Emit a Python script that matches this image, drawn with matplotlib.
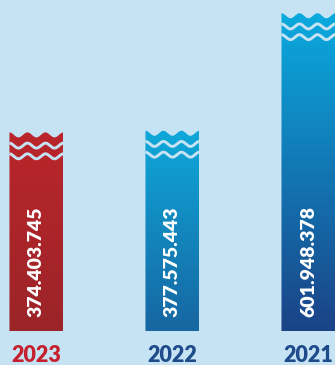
import numpy as np
import matplotlib.pyplot as plt
from matplotlib.colors import LinearSegmentedColormap
from matplotlib.patches import Polygon

years = ["2023", "2022", "2021"]
values = [374403745, 377575443, 601948378]
value_labels = ["374.403.745", "377.575.443", "601.948.378"]

top_colors = ["#BA262B", "#0EA8DA", "#0AAADF"]
bottom_colors = ["#9B2428", "#1766A1", "#1B4387"]
year_colors = ["#C5202E", "#1E4C8A", "#1E4C8A"]

BG = "#C6E3F4"

fig = plt.figure(figsize=(3.35, 3.65), dpi=100, facecolor=BG)
ax = fig.add_axes([0, 34 / 365, 1, 331 / 365])
ax.set_facecolor(BG)
ax.axis("off")

XLIM = (-0.268, 2.195)
YLIM = (0, 632)
# pixels per data unit, so the waves keep the same shape on every bar
px_x = 335 / (XLIM[1] - XLIM[0])
px_y = 331 / (YLIM[1] - YLIM[0])

width = 54 / px_x
amp = 2.5 / px_y
gap = 10.7 / px_y

for i, (v, lab, yr) in enumerate(zip(values, value_labels, years)):
    h = v / 1e6
    x0, x1 = i - width / 2, i + width / 2
    xs = np.linspace(x0, x1, 300)
    top = h + amp * np.cos(2 * np.pi * (xs - x0) / (width / 3))

    verts = np.vstack([[[x0, 0], [x1, 0]], np.column_stack([xs, top])[::-1]])
    poly = Polygon(verts, closed=True, facecolor="none", edgecolor="none")
    ax.add_patch(poly)

    cmap = LinearSegmentedColormap.from_list(f"bar{i}", [top_colors[i], bottom_colors[i]])
    im = ax.imshow(np.linspace(0, 1, 256).reshape(-1, 1), cmap=cmap,
                   extent=(x0, x1, 0, h + amp), origin="upper",
                   aspect="auto", interpolation="bilinear")
    im.set_clip_path(poly)

    # the light wavy stripes cut across the top of the bar
    for k in (1, 2):
        ax.plot(xs, top - k * gap, color=BG, lw=2.1, solid_capstyle="butt")

    ax.text(i, 14 / px_y, lab, rotation=90, ha="center", va="bottom",
            color="white", fontsize=14, fontweight="heavy", family="Lato")
    ax.text(i, -31.5 / 331, yr, transform=ax.get_xaxis_transform(),
            ha="center", va="baseline", color=year_colors[i],
            fontsize=15.5, fontweight="heavy", family="Lato")

ax.set_xlim(*XLIM)
ax.set_ylim(*YLIM)

fig.savefig("out.png", dpi=100, facecolor=BG)
